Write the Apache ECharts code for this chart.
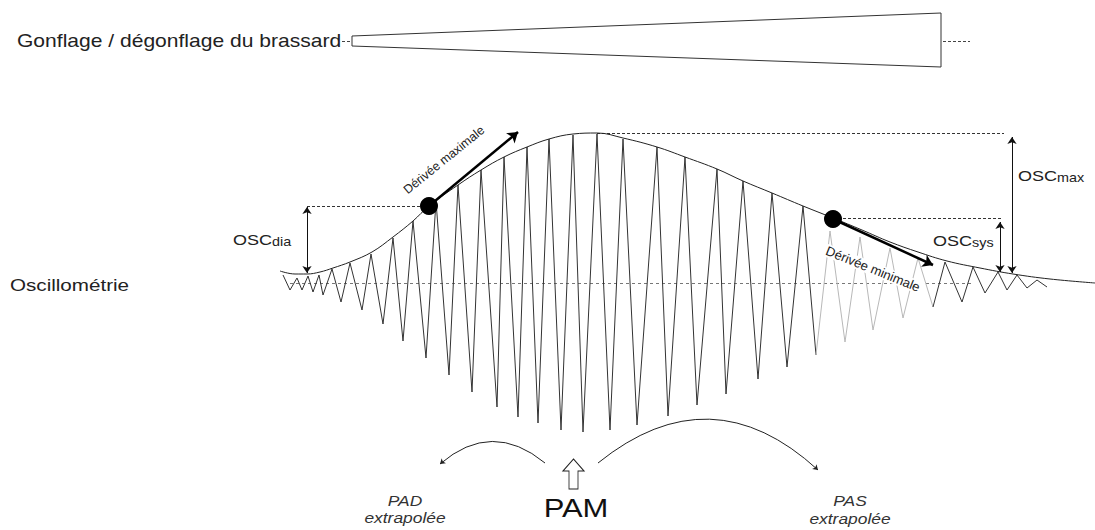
<!DOCTYPE html>
<html>
<head>
<meta charset="utf-8">
<script src="https://cdn.jsdelivr.net/npm/echarts@6/dist/echarts.min.js"></script>
<style>
  html, body { margin: 0; padding: 0; background: #fff; }
  #chart { width: 1095px; height: 530px; }
</style>
</head>
<body>
<div id="chart"></div>
<script>
// ---- Data (diagram units: x = time, y = pressure signal, downward) ----
const cuffOutline = [[352,36],[941,13],[941,67],[352,46],[352,36]];
const cuffDashes = [[[342,41],[350,41]], [[943,41.5],[970,41.5]]];

const oscMain = [
  [283,275],[290,290],[297,278],[302,290],[308,276],[313,292],[319,275],[323,295],
  [332,269],[341,302],[350,263],[362,310],[371,254],[383,324],[393,238],[403,341],
  [413,221],[426,358],[436,201],[449,375],[458,185],[472,392],[481,170],[497,407],
  [504,157],[518,417],[527,147],[538,423],[549,139],[561,430],[573,135],[583,432],
  [597,134],[610,430],[623,139],[637,425],[657,147],[668,416],[685,157],[697,405],
  [717,169],[726,394],[743,181],[758,379],[772,193],[787,367],[803,206],[816,355]
];
const oscFaded = [
  [816,355],[830,231],[845,342],[860,237],[873,330],[890,248],[903,318],[918,258],[933,307]
];
const oscTail = [
  [933,307],[945,262],[962,302],[973,267],[985,293],[998,272],[1007,290],[1017,275],
  [1027,288],[1037,280],[1047,287]
];
const envelope = [
  [280,271],[295,274],[307,274],[320,272],[333,268],[350,262],[372,252],[393,237],
  [413,221],[429,206],[458,185],[481,170],[504,157],[527,147],[549,139],[573,134],
  [597,133],[623,138],[657,147],[685,157],[717,169],[743,181],[772,193],[803,206],
  [833,218],[862,230],[890,242],[918,252],[947,261],[980,268],[1013,274],[1050,279],[1095,283]
];
const keyPoints = [[429,206],[833,219]];
const guideDashes = [
  [[307,206],[429,206]], [[597,133],[1004,133]], [[833,218],[1002,218]]
];
const baselineDash = [[[290,283],[972,283]]];
const oscArrows = [
  [[307,207],[307,273]], [[1000,222],[1000,272]], [[1012,137],[1012,273]]
];
const slopeArrows = [[[429,206],[518,132]], [[833,219],[933,265]]];
const pamMarker = [[573.5,474]];
const arcLeft = [[545,463],[440,464]];
const arcRight = [[598,463],[818,470]];

const FONT = '"Liberation Sans", Arial, Helvetica, sans-serif';

const chart = echarts.init(document.getElementById('chart'), null, { renderer: 'svg' });

function segs(list) { return list.map(c => ({ coords: c })); }

const option = {
  animation: false,
  backgroundColor: '#ffffff',
  grid: { left: 0, right: 0, top: 0, bottom: 0, containLabel: false },
  xAxis: { type: 'value', min: 0, max: 1095, show: false },
  yAxis: { type: 'value', min: 0, max: 530, inverse: true, show: false },
  series: [
    { type: 'lines', coordinateSystem: 'cartesian2d', silent: true, z: 1,
      symbol: 'none', lineStyle: { color: '#777', width: 1, type: [3, 3], opacity: 1 },
      data: segs(baselineDash) },
    { type: 'line', silent: true, z: 3, symbol: 'none', data: cuffOutline,
      lineStyle: { color: '#333', width: 1 } },
    { type: 'lines', coordinateSystem: 'cartesian2d', silent: true, z: 3,
      symbol: 'none', lineStyle: { color: '#444', width: 1, type: [3, 2], opacity: 1 },
      data: segs(cuffDashes) },
    { type: 'line', silent: true, z: 3, symbol: 'none', data: oscMain,
      lineStyle: { color: '#333', width: 1 } },
    { type: 'line', silent: true, z: 3, symbol: 'none', data: oscFaded,
      lineStyle: { color: '#b8b8b8', width: 1 } },
    { type: 'line', silent: true, z: 3, symbol: 'none', data: oscTail,
      lineStyle: { color: '#333', width: 1 } },
    { type: 'line', silent: true, z: 4, symbol: 'none', smooth: 0.4, data: envelope,
      lineStyle: { color: '#222', width: 1 } },
    { type: 'lines', coordinateSystem: 'cartesian2d', silent: true, z: 4,
      symbol: 'none', lineStyle: { color: '#333', width: 1, type: [3, 2], opacity: 1 },
      data: segs(guideDashes) },
    { type: 'lines', coordinateSystem: 'cartesian2d', silent: true, z: 5,
      symbol: ['arrow', 'arrow'], symbolSize: 7,
      lineStyle: { color: '#111', width: 1, opacity: 1 },
      data: segs(oscArrows) },
    { type: 'lines', coordinateSystem: 'cartesian2d', silent: true, z: 6,
      symbol: ['none', 'arrow'], symbolSize: 10,
      lineStyle: { color: '#000', width: 2.5, opacity: 1 },
      data: segs(slopeArrows) },
    { type: 'scatter', silent: true, z: 7, symbol: 'circle', symbolSize: 18,
      itemStyle: { color: '#000', opacity: 1 }, data: keyPoints },
    { type: 'lines', coordinateSystem: 'cartesian2d', silent: true, z: 5,
      symbol: ['none', 'arrow'], symbolSize: 5,
      lineStyle: { color: '#222', width: 1, curveness: -0.42, opacity: 1 },
      data: [{ coords: arcLeft }] },
    { type: 'lines', coordinateSystem: 'cartesian2d', silent: true, z: 5,
      symbol: ['none', 'arrow'], symbolSize: 5,
      lineStyle: { color: '#222', width: 1, curveness: 0.43, opacity: 1 },
      data: [{ coords: arcRight }] },
    { type: 'scatter', silent: true, z: 7,
      symbol: 'path://M10.5,0 L21,12 L15,12 L15,30 L6,30 L6,12 L0,12 Z',
      symbolSize: [21, 30],
      itemStyle: { color: '#fff', borderColor: '#222', borderWidth: 1, opacity: 1 },
      data: pamMarker }
  ],
  graphic: [
    { type: 'text', x: 17, y: 41, scaleX: 1.17, z: 100, silent: true,
      style: { text: 'Gonflage / dégonflage du brassard', fontSize: 18, fontFamily: FONT,
        fill: '#222', align: 'left', verticalAlign: 'middle' } },
    { type: 'text', x: 10, y: 285, scaleX: 1.25, z: 100, silent: true,
      style: { text: 'Oscillométrie', fontSize: 16.5, fontFamily: FONT,
        fill: '#222', align: 'left', verticalAlign: 'middle' } },
    { type: 'text', x: 233, y: 240.5, scaleX: 1.2, z: 100, silent: true,
      style: { text: '{a|OSC}{b|dia}', align: 'left', verticalAlign: 'middle',
        rich: { a: { fontSize: 15, fontFamily: FONT, fill: '#222', verticalAlign: 'bottom' },
                b: { fontSize: 12, fontFamily: FONT, fill: '#222', verticalAlign: 'bottom' } } } },
    { type: 'text', x: 1018, y: 176.5, scaleX: 1.2, z: 100, silent: true,
      style: { text: '{a|OSC}{b|max}', align: 'left', verticalAlign: 'middle',
        rich: { a: { fontSize: 15, fontFamily: FONT, fill: '#222', verticalAlign: 'bottom' },
                b: { fontSize: 12, fontFamily: FONT, fill: '#222', verticalAlign: 'bottom' } } } },
    { type: 'text', x: 933, y: 241.5, scaleX: 1.2, z: 100, silent: true,
      style: { text: '{a|OSC}{b|sys}', align: 'left', verticalAlign: 'middle',
        rich: { a: { fontSize: 15, fontFamily: FONT, fill: '#222', verticalAlign: 'bottom' },
                b: { fontSize: 12, fontFamily: FONT, fill: '#222', verticalAlign: 'bottom' } } } },
    { type: 'text', x: 444, y: 160, rotation: 39 * Math.PI / 180, z: 100, silent: true,
      style: { text: 'Dérivée maximale', fontSize: 12.5, fontFamily: FONT,
        fill: '#222', align: 'center', verticalAlign: 'middle' } },
    { type: 'text', x: 873, y: 269, rotation: -22 * Math.PI / 180, z: 100, silent: true,
      style: { text: 'Dérivée minimale', fontSize: 13, fontFamily: FONT,
        fill: '#222', align: 'center', verticalAlign: 'middle',
        backgroundColor: '#fff', padding: [0, 2] } },
    { type: 'text', x: 576, y: 508, scaleX: 1.19, z: 100, silent: true,
      style: { text: 'PAM', fontSize: 26, fontFamily: FONT,
        fill: '#111', align: 'center', verticalAlign: 'middle' } },
    { type: 'text', x: 405, y: 509.5, scaleX: 1.2, z: 100, silent: true,
      style: { text: 'PAD\nextrapolée', fontSize: 14.5, fontStyle: 'italic', fontFamily: FONT,
        lineHeight: 17, fill: '#333', align: 'center', verticalAlign: 'middle' } },
    { type: 'text', x: 850, y: 510, scaleX: 1.2, z: 100, silent: true,
      style: { text: 'PAS\nextrapolée', fontSize: 14.5, fontStyle: 'italic', fontFamily: FONT,
        lineHeight: 18, fill: '#333', align: 'center', verticalAlign: 'middle' } }
  ]
};
chart.setOption(option);
</script>
</body>
</html>
